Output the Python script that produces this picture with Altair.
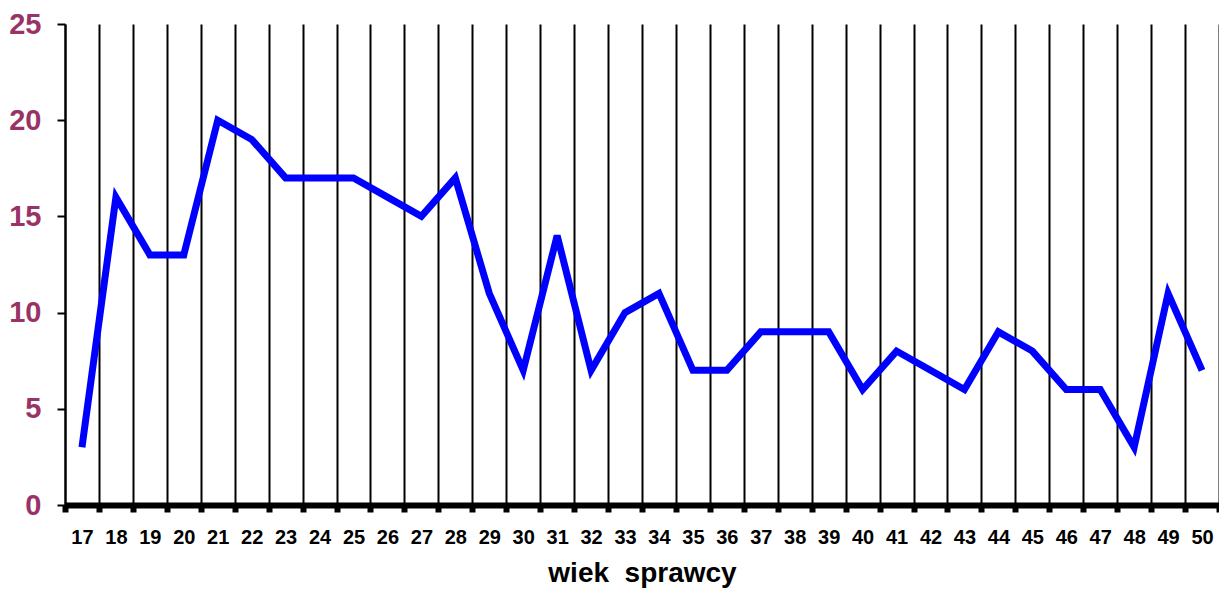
import altair as alt
import pandas as pd

ages = list(range(17, 51))
counts = [3, 16, 13, 13, 20, 19, 17, 17, 17, 16, 15, 17, 11, 7, 14, 7, 10, 11,
          7, 7, 9, 9, 9, 6, 8, 7, 6, 9, 8, 6, 6, 3, 11, 7]
y_ticks = [0, 5, 10, 15, 20, 25]
x_title = "wiek\u00a0 sprawcy"

df = pd.DataFrame({"wiek": [str(a) for a in ages], "n": counts})

chart = alt.Chart(df).mark_line(color="#0000FF", strokeWidth=7, strokeJoin="miter").encode(
    x=alt.X("wiek:O", sort=[str(a) for a in ages],
            scale=alt.Scale(type="band", paddingInner=0, paddingOuter=0),
            axis=alt.Axis(title=x_title, labelAngle=0, grid=True,
                          tickBand="extent", gridColor="#000000", gridWidth=2,
                          gridOpacity=1, domainColor="#000000", domainWidth=6,
                          tickColor="#000000", tickWidth=6, tickSize=7,
                          labelFont="Liberation Sans", labelFontSize=20,
                          labelFontWeight="bold", labelColor="#000000",
                          labelPadding=15, titleFont="Liberation Sans",
                          titleFontSize=28, titleFontWeight="bold",
                          titleColor="#000000", titlePadding=12)),
    y=alt.Y("n:Q", scale=alt.Scale(domain=[0, 25], nice=False),
            axis=alt.Axis(title=None, values=y_ticks, grid=False,
                          domainColor="#000000", domainWidth=2,
                          tickColor="#000000", tickWidth=2, tickSize=8,
                          labelFont="Liberation Sans", labelFontSize=29,
                          labelFontWeight="bold", labelColor="#993366",
                          labelPadding=16)),
).properties(
    width=1154, height=481,
    autosize=alt.AutoSizeParams(type="none"),
    padding={"left": 57, "top": 16, "right": 0, "bottom": 87},
).configure_view(stroke=None)

chart.save("out.html", embed_options={"renderer": "svg", "actions": False})
